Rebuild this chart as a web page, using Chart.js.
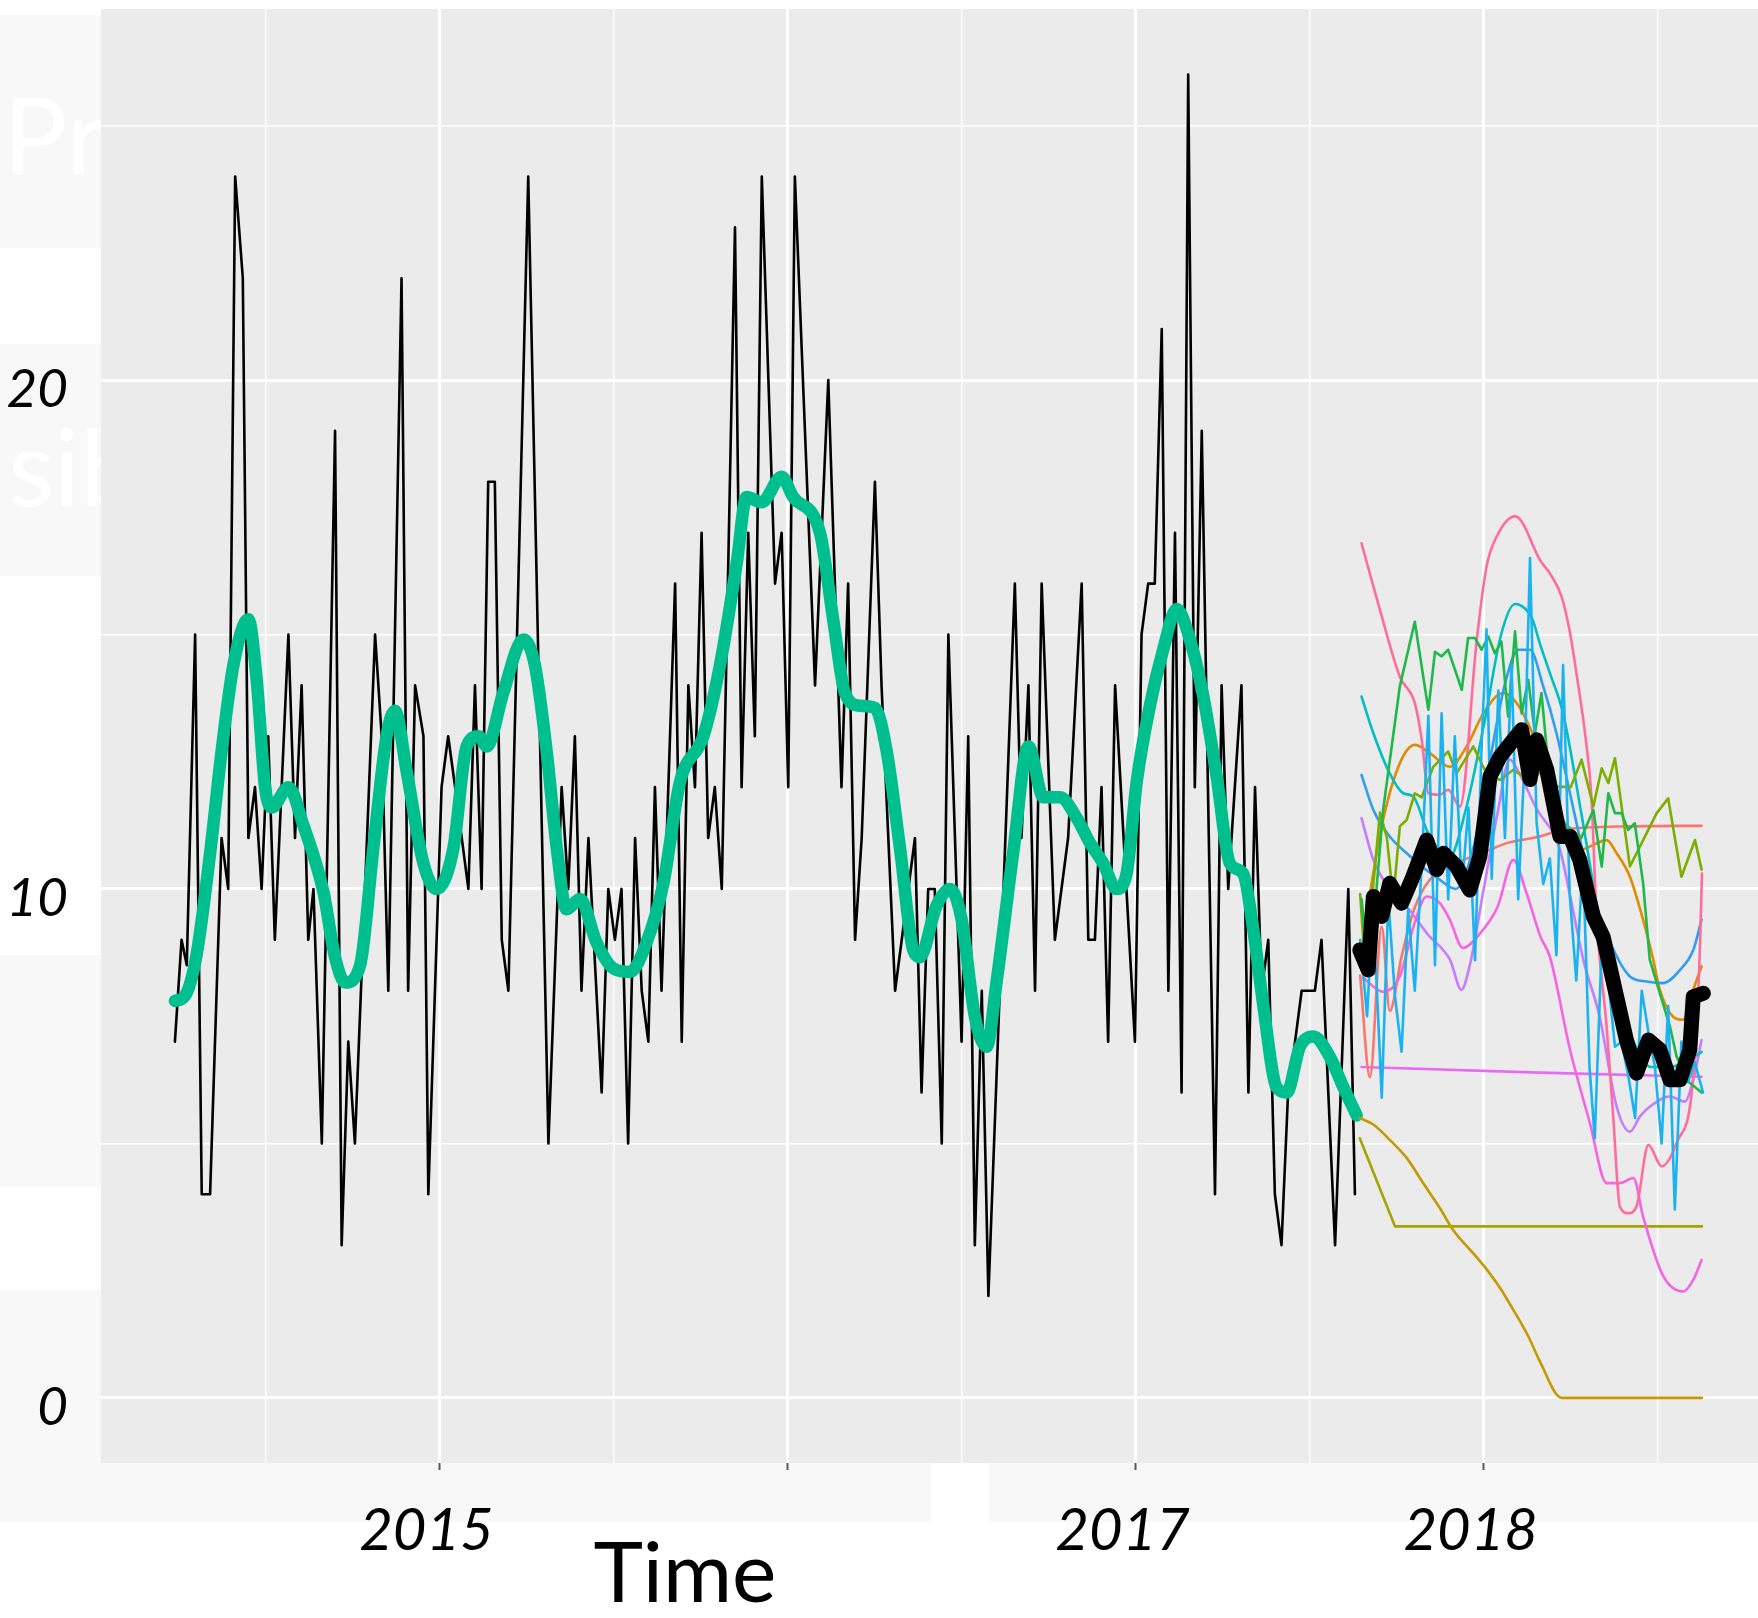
<!DOCTYPE html>
<html>
<head>
<meta charset="utf-8">
<title>Weekly counts with forecasts</title>
<script src="https://cdn.jsdelivr.net/npm/chart.js@4.4.1/dist/chart.umd.min.js"></script>
<style>
    html, body { margin: 0; padding: 0; background: #ffffff; }
    body { width: 1758px; height: 1618px; position: relative; overflow: hidden; font-family: Lato, "Open Sans", sans-serif; }
    .slide-box { position: absolute; left: 0; width: 101px; background: #f8f8f8; overflow: hidden; }
    .slide-box span { position: absolute; color: #ffffff; font-size: 107px; line-height: 1; white-space: nowrap; }
    .bottom-band { position: absolute; top: 1463px; height: 59px; background: #f8f8f8; }
    #chart { position: absolute; left: 0; top: 0; }
    .axis-title { position: absolute; left: 685px; top: 1528px; transform: translateX(-50%); font-size: 84px; line-height: 1; color: #000000; white-space: nowrap; }
</style>
</head>
<body>
<div class="slide-box" style="top:15px;height:233px"><span style="left:3px;top:65px">Pr</span></div>
<div class="slide-box" style="top:344px;height:232px"><span style="left:8px;top:67px">sib</span></div>
<div class="slide-box" style="top:955px;height:232px"></div>
<div class="slide-box" style="top:1290px;height:232px"></div>
<div class="bottom-band" style="left:0;width:931px"></div>
<div class="bottom-band" style="left:989px;width:769px"></div>
<canvas id="chart" width="1758" height="1618"></canvas>
<div class="axis-title">Time</div>

<script>
const obsYear = [
    2014.240, 2014.259, 2014.274, 2014.298, 2014.317, 2014.341, 2014.374, 2014.393, 2014.413, 2014.435,
    2014.451, 2014.470, 2014.489, 2014.508, 2014.527, 2014.566, 2014.585, 2014.604, 2014.623, 2014.638,
    2014.662, 2014.700, 2014.719, 2014.738, 2014.757, 2014.815, 2014.834, 2014.853, 2014.891, 2014.910,
    2014.930, 2014.954, 2014.968, 2015.006, 2015.025, 2015.045, 2015.083, 2015.102, 2015.121, 2015.140,
    2015.159, 2015.179, 2015.198, 2015.255, 2015.313, 2015.351, 2015.370, 2015.389, 2015.408, 2015.428,
    2015.466, 2015.485, 2015.504, 2015.523, 2015.542, 2015.562, 2015.581, 2015.600, 2015.619, 2015.638,
    2015.677, 2015.696, 2015.715, 2015.734, 2015.753, 2015.772, 2015.791, 2015.811, 2015.849, 2015.868,
    2015.887, 2015.906, 2015.926, 2015.964, 2015.983, 2016.002, 2016.021, 2016.079, 2016.117, 2016.155,
    2016.174, 2016.194, 2016.213, 2016.251, 2016.270, 2016.309, 2016.366, 2016.385, 2016.404, 2016.423,
    2016.443, 2016.462, 2016.500, 2016.519, 2016.538, 2016.558, 2016.577, 2016.653, 2016.672, 2016.692,
    2016.711, 2016.730, 2016.768, 2016.806, 2016.845, 2016.864, 2016.883, 2016.902, 2016.921, 2016.941,
    2016.998, 2017.017, 2017.036, 2017.055, 2017.075, 2017.094, 2017.113, 2017.132, 2017.151, 2017.170,
    2017.190, 2017.228, 2017.247, 2017.266, 2017.304, 2017.324, 2017.343, 2017.362, 2017.381, 2017.400,
    2017.419, 2017.438, 2017.458, 2017.477, 2017.496, 2017.515, 2017.534, 2017.573, 2017.611, 2017.630
];
const obsCount = [
    7, 9, 8.5, 15, 4, 4, 11, 10, 24, 22,
    11, 12, 10, 13, 9, 15, 11, 14, 9, 10,
    5, 19, 3, 7, 5, 15, 13, 8, 22, 8,
    14, 13, 4, 12, 13, 12, 10, 14, 10, 18,
    18, 9, 8, 24, 5, 12, 10, 13, 8, 11,
    6, 10, 9, 10, 5, 11, 8, 7, 12, 8,
    16, 7, 14, 12, 17, 11, 12, 10, 23, 12,
    17, 13, 24, 16, 17, 12, 24, 14, 20, 12,
    16, 9, 11, 18, 14, 8, 11, 6, 10, 10,
    5, 15, 7, 13, 3, 8, 2, 16, 11, 14,
    8, 16, 9, 11, 16, 9, 9, 12, 7, 14,
    7, 15, 16, 16, 21, 8, 17, 6, 26, 12,
    19, 4, 14, 10, 14, 6, 12, 8, 9, 4,
    3, 6, 7, 8, 8, 8, 9, 3, 10, 4
];

// Smoothed trend (green)
const trendYear = [
    2014.240, 2014.269, 2014.302, 2014.341, 2014.374, 2014.408, 2014.451, 2014.475, 2014.499, 2014.518,
    2014.566, 2014.609, 2014.666, 2014.700, 2014.729, 2014.772, 2014.810, 2014.848, 2014.872, 2014.906,
    2014.954, 2014.992, 2015.040, 2015.078, 2015.112, 2015.136, 2015.183, 2015.241, 2015.274, 2015.308,
    2015.337, 2015.365, 2015.404, 2015.451, 2015.499, 2015.547, 2015.595, 2015.643, 2015.691, 2015.758,
    2015.806, 2015.854, 2015.882, 2015.926, 2015.983, 2016.016, 2016.093, 2016.131, 2016.165, 2016.208,
    2016.251, 2016.285, 2016.323, 2016.361, 2016.380, 2016.428, 2016.467, 2016.500, 2016.538, 2016.572,
    2016.601, 2016.648, 2016.692, 2016.735, 2016.783, 2016.830, 2016.869, 2016.907, 2016.945, 2016.974,
    2017.003, 2017.041, 2017.079, 2017.118, 2017.156, 2017.194, 2017.233, 2017.271, 2017.309, 2017.338,
    2017.367, 2017.405, 2017.434, 2017.472, 2017.510, 2017.558, 2017.597, 2017.635
];
const trendCount = [
    7.8, 7.9, 8.7, 10.7, 12.7, 14.4, 15.3, 14.1, 12.0, 11.6,
    12.0, 11.25, 9.96, 8.66, 8.16, 8.5, 10.8, 13.0, 13.5, 12.3,
    10.5, 10.0, 10.8, 12.8, 13.0, 12.8, 13.85, 14.9, 14.4, 12.7,
    10.8, 9.6, 9.8, 8.95, 8.44, 8.37, 8.95, 10.1, 12.1, 13.0,
    14.4, 16.4, 17.7, 17.6, 18.1, 17.7, 17.0, 15.3, 13.85, 13.6,
    13.56, 12.7, 10.8, 8.8, 8.66, 9.67, 10.0, 9.4, 7.5, 6.9,
    8.2, 10.7, 12.8, 11.8, 11.8, 11.4, 10.9, 10.5, 10.0, 10.3,
    12.1, 13.6, 14.7, 15.5, 14.9, 13.8, 12.2, 10.5, 10.3, 9.2,
    7.7, 6.1, 6.0, 6.9, 7.1, 6.7, 6.1, 5.55
];

// Forecast: mean path (thick black)
const fcMeanYear = [
    2017.644, 2017.668, 2017.683, 2017.707, 2017.730, 2017.764, 2017.793, 2017.836, 2017.865, 2017.884,
    2017.922, 2017.960, 2017.989, 2018.018, 2018.047, 2018.085, 2018.109, 2018.133, 2018.152, 2018.181,
    2018.219, 2018.248, 2018.276, 2018.315, 2018.343, 2018.382, 2018.410, 2018.439, 2018.473, 2018.506,
    2018.535, 2018.564, 2018.592, 2018.602, 2018.631
];
const fcMeanCount = [
    8.80, 8.41, 9.85, 9.46, 10.11, 9.72, 10.18, 10.96, 10.38, 10.70,
    10.44, 9.98, 10.64, 12.21, 12.60, 12.93, 13.13, 12.15, 12.93, 12.35,
    11.03, 11.03, 10.57, 9.46, 9.06, 7.88, 7.03, 6.38, 7.03, 6.84,
    6.25, 6.25, 6.84, 7.88, 7.95
];

// Forecast: individual simulated paths
const fcSalmonYear = [2017.645, 2017.673, 2017.707, 2017.730, 2017.764, 2017.800, 2017.845, 2017.920, 2018.018, 2018.066, 2018.161, 2018.228, 2018.420, 2018.626];
const fcSalmonCount = [8.3, 6.3, 9.26, 7.6, 8.67, 9.6, 10.18, 10.5, 10.77, 10.90, 11.03, 11.16, 11.23, 11.24];

const fcOrangeYear = [
    2017.645, 2017.680, 2017.711, 2017.759, 2017.802, 2017.845, 2017.903, 2017.951, 2017.999, 2018.056,
    2018.095, 2018.150, 2018.210, 2018.276, 2018.353, 2018.382, 2018.420, 2018.458, 2018.487, 2018.506,
    2018.544, 2018.573, 2018.602, 2018.626
];
const fcOrangeCount = [
    8.6, 10.2, 11.36, 12.47, 12.83, 12.67, 12.40, 12.80, 13.45, 13.85,
    13.65, 12.9, 11.7, 10.77, 10.96, 10.70, 10.24, 9.39, 8.61, 8.02,
    7.49, 7.43, 8.02, 8.48
];

const fcGoldYear = [2017.644, 2017.683, 2017.730, 2017.779, 2017.826, 2017.874, 2017.912, 2017.970, 2018.009, 2018.047, 2018.085, 2018.128, 2018.161, 2018.224, 2018.627];
const fcGoldCount = [5.5, 5.37, 5.07, 4.71, 4.22, 3.73, 3.30, 2.84, 2.52, 2.16, 1.73, 1.21, 0.72, 0, 0];

const fcOliveYear = [2017.644, 2017.745, 2018.627];
const fcOliveCount = [5.1, 3.37, 3.37];

const fcLimeYear = [
    2017.645, 2017.660, 2017.702, 2017.722, 2017.740, 2017.759, 2017.779, 2017.802, 2017.822, 2017.855,
    2017.898, 2017.922, 2017.970, 2018.008, 2018.047, 2018.085, 2018.140, 2018.180, 2018.209, 2018.250,
    2018.281, 2018.315, 2018.339, 2018.358, 2018.377, 2018.420, 2018.497, 2018.530, 2018.568, 2018.607,
    2018.626
];
const fcLimeCount = [
    9.9, 8.4, 11.5, 11.0, 9.8, 11.23, 11.36, 11.88, 11.8, 12.40,
    12.70, 12.27, 12.80, 12.27, 12.14, 12.34, 12.1, 12.47, 12.01, 12.0,
    12.54, 11.62, 12.37, 12.08, 12.57, 10.44, 11.49, 11.78, 10.24, 10.96,
    10.38
];

const fcGreenYear = [
    2017.649, 2017.665, 2017.683, 2017.711, 2017.759, 2017.802, 2017.841, 2017.860, 2017.879, 2017.898,
    2017.937, 2017.955, 2017.975, 2017.994, 2018.013, 2018.032, 2018.051, 2018.070, 2018.090, 2018.109,
    2018.128, 2018.147, 2018.166, 2018.190, 2018.230, 2018.280, 2018.315, 2018.339, 2018.358, 2018.377,
    2018.396, 2018.415, 2018.434, 2018.458, 2018.477, 2018.506, 2018.535, 2018.554, 2018.590, 2018.626
];
const fcGreenCount = [
    9.8, 8.7, 9.26, 11.55, 13.98, 15.25, 13.52, 14.66, 14.57, 14.70,
    13.91, 14.93, 14.93, 14.70, 14.96, 14.63, 14.86, 13.39, 15.06, 13.45,
    14.11, 13.06, 13.85, 12.08, 11.3, 11.0, 11.55, 10.44, 11.88, 11.49,
    11.49, 11.16, 11.29, 10.11, 8.61, 7.95, 7.30, 6.71, 6.2, 6.0
];

const fcTealYear = [
    2017.649, 2017.683, 2017.730, 2017.769, 2017.797, 2017.840, 2017.900, 2017.950, 2018.000, 2018.050,
    2018.090, 2018.120, 2018.140, 2018.161, 2018.190, 2018.228, 2018.280, 2018.330, 2018.380, 2018.430,
    2018.480, 2018.530, 2018.580, 2018.626
];
const fcTealCount = [
    13.78, 13.06, 12.27, 11.88, 11.82, 11.1, 10.6, 11.6, 13.2, 15.0,
    15.6, 15.5, 15.3, 14.83, 14.24, 13.45, 11.5, 9.5, 8.0, 7.0,
    6.5, 6.5, 6.6, 6.8
];

const fcSkyYear = [
    2017.645, 2017.665, 2017.680, 2017.692, 2017.707, 2017.726, 2017.745, 2017.764, 2017.783, 2017.802,
    2017.822, 2017.841, 2017.860, 2017.879, 2017.898, 2017.917, 2017.937, 2017.956, 2017.975, 2017.994,
    2018.008, 2018.023, 2018.042, 2018.061, 2018.080, 2018.099, 2018.118, 2018.133, 2018.152, 2018.171,
    2018.190, 2018.209, 2018.228, 2018.247, 2018.266, 2018.285, 2018.304, 2018.319, 2018.338, 2018.358,
    2018.377, 2018.396, 2018.416, 2018.435, 2018.454, 2018.473, 2018.492, 2018.511, 2018.530, 2018.549,
    2018.568, 2018.587, 2018.606, 2018.630
];
const fcSkyCount = [
    9.0, 7.5, 9.5, 8.2, 5.9, 9.8, 7.9, 6.8, 9.6, 8.0,
    10.5, 13.4, 8.5, 13.45, 9.8, 13.0, 10.0, 11.6, 8.6, 12.8,
    15.1, 10.2, 13.9, 11.0, 14.4, 9.8, 12.6, 16.5, 11.3, 10.1,
    10.6, 8.7, 14.4, 9.9, 8.2, 10.6, 6.5, 5.1, 8.7, 8.2,
    6.9, 7.0, 6.3, 5.5, 8.0, 7.2, 6.5, 5.0, 7.7, 3.7,
    7.0, 6.2, 6.6, 6.0
];

const fcBlueYear = [
    2017.649, 2017.683, 2017.730, 2017.779, 2017.822, 2017.870, 2017.920, 2017.970, 2018.020, 2018.060,
    2018.100, 2018.133, 2018.171, 2018.209, 2018.260, 2018.310, 2018.360, 2018.420, 2018.468, 2018.516,
    2018.564, 2018.602, 2018.626
];
const fcBlueCount = [
    12.24, 11.55, 11.03, 10.70, 10.44, 10.2, 10.0, 10.8, 12.6, 14.0,
    14.7, 14.70, 13.98, 13.06, 11.5, 10.0, 9.0, 8.28, 8.18, 8.15,
    8.41, 8.80, 9.4
];

const fcPurpleYear = [
    2017.649, 2017.683, 2017.730, 2017.779, 2017.840, 2017.903, 2017.936, 2017.960, 2018.000, 2018.040,
    2018.075, 2018.100, 2018.150, 2018.219, 2018.250, 2018.286, 2018.333, 2018.382, 2018.420, 2018.449,
    2018.477, 2018.535, 2018.578, 2018.600, 2018.626
];
const fcPurpleCount = [
    11.39, 10.57, 10.0, 9.65, 9.1, 8.61, 8.02, 8.5, 10.0, 11.5,
    12.54, 12.3, 11.6, 10.77, 9.8, 8.61, 7.49, 5.72, 5.23, 5.53,
    5.72, 5.92, 5.82, 6.2, 7.03
];

const fcVioletYear = [2017.649, 2018.161, 2018.626];
const fcVioletCount = [6.50, 6.39, 6.31];

const fcMagentaYear = [
    2017.654, 2017.711, 2017.760, 2017.800, 2017.836, 2017.874, 2017.903, 2017.940, 2017.990, 2018.040,
    2018.085, 2018.123, 2018.163, 2018.190, 2018.248, 2018.305, 2018.353, 2018.391, 2018.430, 2018.458,
    2018.516, 2018.573, 2018.602, 2018.626
];
const fcMagentaCount = [
    8.25, 7.98, 8.3, 9.3, 9.85, 9.72, 9.39, 8.84, 9.13, 9.65,
    10.57, 9.92, 9.06, 8.67, 6.84, 5.40, 4.22, 4.22, 4.32, 3.56,
    2.39, 2.09, 2.32, 2.71
];

const fcPinkYear = [
    2017.649, 2017.702, 2017.759, 2017.802, 2017.822, 2017.841, 2017.874, 2017.898, 2017.932, 2017.980,
    2018.008, 2018.037, 2018.090, 2018.109, 2018.161, 2018.190, 2018.224, 2018.248, 2018.272, 2018.291,
    2018.310, 2018.324, 2018.353, 2018.372, 2018.391, 2018.415, 2018.439, 2018.473, 2018.511, 2018.554,
    2018.602, 2018.621, 2018.627
];
const fcPinkCount = [
    16.79, 15.48, 14.17, 13.65, 12.93, 11.88, 11.85, 11.95, 11.62, 14.89,
    16.33, 16.92, 17.32, 17.22, 16.47, 16.20, 15.74, 15.03, 13.98, 13.06,
    11.75, 9.46, 7.30, 5.53, 3.76, 3.63, 3.76, 4.97, 4.55, 5.01,
    6.31, 8.80, 10.3
];

// Axis ticks
const yTicks = [0, 5, 10, 15, 20, 25];
const yLabels = [0, 10, 20];
const xTicks = [2014.5, 2015, 2015.5, 2016, 2016.5, 2017, 2017.5, 2018, 2018.5];
const xLabels = [2015, 2017, 2018];

function toPoints(years, counts) {
    const n = Math.min(years.length, counts.length);
    const pts = [];
    for (let i = 0; i < n; i++) {
        pts.push({ x: years[i], y: counts[i] });
    }
    return pts;
}

function lineSet(years, counts, color, width, order, smooth) {
    return {
        data: toPoints(years, counts),
        borderColor: color,
        borderWidth: width,
        pointRadius: 0,
        fill: false,
        order: order,
        tension: 0,
        cubicInterpolationMode: smooth ? 'monotone' : 'default',
        borderJoinStyle: 'round',
        borderCapStyle: 'round'
    };
}

// Grey panel behind the plot, ggplot style
const panelBackground = {
    id: 'panelBackground',
    beforeDraw(chart) {
        const { ctx, chartArea } = chart;
        ctx.save();
        ctx.fillStyle = '#ebebeb';
        ctx.fillRect(chartArea.left, chartArea.top, chartArea.right - chartArea.left, chartArea.bottom - chartArea.top);
        ctx.restore();
    }
};

const isMajorY = (c) => c.tick && c.tick.value % 10 === 0;
const isMajorX = (c) => c.tick && Number.isInteger(c.tick.value);

const datasets = [
    lineSet(fcMeanYear, fcMeanCount, '#000000', 15, 0, false),
    lineSet(fcSkyYear, fcSkyCount, '#1AB3EF', 2.6, 1, false),
    lineSet(fcGreenYear, fcGreenCount, '#1FB84A', 2.6, 2, false),
    lineSet(fcLimeYear, fcLimeCount, '#7CAE00', 2.6, 2, false),
    lineSet(fcPinkYear, fcPinkCount, '#FF6C9C', 2.6, 2, true),
    lineSet(fcMagentaYear, fcMagentaCount, '#F564E3', 2.6, 2, true),
    lineSet(fcTealYear, fcTealCount, '#00BFC4', 2.6, 2, true),
    lineSet(fcBlueYear, fcBlueCount, '#2E9EF2', 2.6, 2, true),
    lineSet(fcPurpleYear, fcPurpleCount, '#C77CFF', 2.6, 2, true),
    lineSet(fcOrangeYear, fcOrangeCount, '#E08B00', 2.6, 2, true),
    lineSet(fcSalmonYear, fcSalmonCount, '#F8766D', 2.6, 2, true),
    lineSet(fcVioletYear, fcVioletCount, '#E76BF3', 2.6, 2, false),
    lineSet(fcGoldYear, fcGoldCount, '#C49A00', 2.6, 2, true),
    lineSet(fcOliveYear, fcOliveCount, '#A3A500', 2.6, 2, false),
    lineSet(trendYear, trendCount, '#00BF8E', 12.5, 3, true),
    lineSet(obsYear, obsCount, '#000000', 2.6, 4, false)
];

new Chart(document.getElementById('chart').getContext('2d'), {
    type: 'line',
    data: { datasets: datasets },
    options: {
        responsive: false,
        animation: false,
        devicePixelRatio: 1,
        events: [],
        layout: { padding: { top: 9, right: 0, bottom: 0, left: 0 } },
        plugins: {
            legend: { display: false },
            tooltip: { enabled: false }
        },
        scales: {
            x: {
                type: 'linear',
                min: 2014.0276,
                max: 2018.788,
                afterBuildTicks: (scale) => { scale.ticks = xTicks.map(v => ({ value: v })); },
                afterFit: (scale) => { scale.height = 155; scale.paddingLeft = 0; scale.paddingRight = 0; },
                border: { display: false },
                grid: {
                    color: '#ffffff',
                    lineWidth: (c) => isMajorX(c) ? 3 : 1.5,
                    drawTicks: true,
                    tickLength: 7,
                    tickWidth: 2,
                    tickColor: (c) => isMajorX(c) ? '#5a5a5a' : 'rgba(0,0,0,0)'
                },
                ticks: {
                    autoSkip: false,
                    maxRotation: 0,
                    padding: 26,
                    labelOffset: -13,
                    color: '#000000',
                    font: { family: 'Lato', size: 58, style: 'italic' },
                    callback: (v) => xLabels.includes(v) ? String(v) : ''
                }
            },
            y: {
                type: 'linear',
                min: -1.28,
                max: 27.29,
                afterBuildTicks: (scale) => { scale.ticks = yTicks.map(v => ({ value: v })); },
                afterFit: (scale) => { scale.width = 101; scale.paddingTop = 0; scale.paddingBottom = 0; },
                border: { display: false },
                grid: {
                    color: '#ffffff',
                    lineWidth: (c) => isMajorY(c) ? 3 : 1.5,
                    drawTicks: false
                },
                ticks: {
                    padding: 33,
                    labelOffset: 10,
                    color: '#000000',
                    font: { family: 'Lato', size: 53, style: 'italic' },
                    callback: (v) => yLabels.includes(v) ? String(v) : ''
                }
            }
        }
    },
    plugins: [panelBackground]
});
</script>
</body>
</html>
